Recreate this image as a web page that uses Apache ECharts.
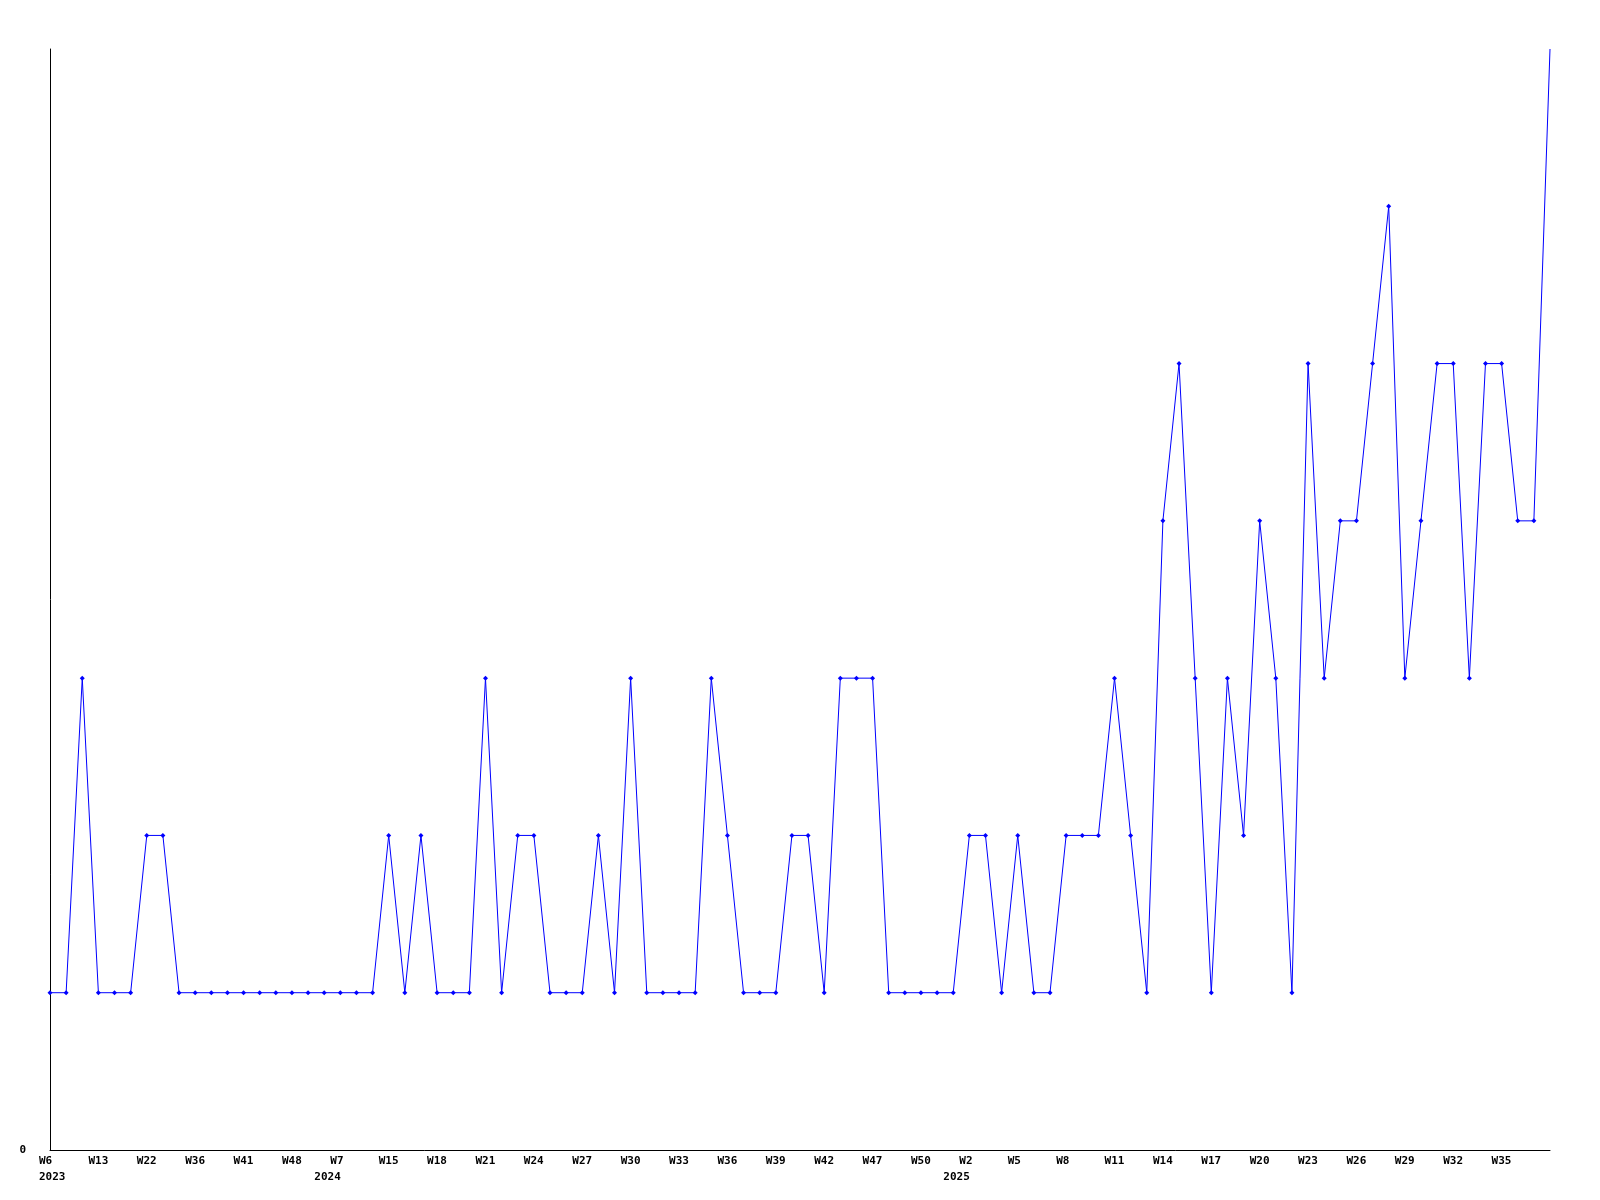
<!DOCTYPE html>
<html>
<head>
<meta charset="utf-8">
<script src="https://cdn.jsdelivr.net/npm/echarts@6/dist/echarts.min.js"></script>
<style>
  html, body { margin: 0; padding: 0; background: #fff; }
  #chart { width: 1600px; height: 1200px; }
</style>
</head>
<body>
<div id="chart"></div>
<script>
// categories: "year week"
const weeks = [
  '2023 W6', '2023 W8', '2023 W10', '2023 W13', '2023 W16', '2023 W19', '2023 W22', '2023 W27', '2023 W31', '2023 W36',
  '2023 W38', '2023 W39', '2023 W41', '2023 W43', '2023 W46', '2023 W48', '2023 W50', '2023 W52',
  '2024 W7', '2024 W10', '2024 W12', '2024 W15', '2024 W16', '2024 W17', '2024 W18', '2024 W19', '2024 W20', '2024 W21',
  '2024 W22', '2024 W23', '2024 W24', '2024 W25', '2024 W26', '2024 W27', '2024 W28', '2024 W29', '2024 W30', '2024 W31',
  '2024 W32', '2024 W33', '2024 W34', '2024 W35', '2024 W36', '2024 W37', '2024 W38', '2024 W39', '2024 W40', '2024 W41',
  '2024 W42', '2024 W43', '2024 W45', '2024 W47', '2024 W48', '2024 W49', '2024 W50', '2024 W51', '2024 W52',
  '2025 W2', '2025 W3', '2025 W4', '2025 W5', '2025 W6', '2025 W7', '2025 W8', '2025 W9', '2025 W10', '2025 W11',
  '2025 W12', '2025 W13', '2025 W14', '2025 W15', '2025 W16', '2025 W17', '2025 W18', '2025 W19', '2025 W20', '2025 W21',
  '2025 W22', '2025 W23', '2025 W24', '2025 W25', '2025 W26', '2025 W27', '2025 W28', '2025 W29', '2025 W30', '2025 W31',
  '2025 W32', '2025 W33', '2025 W34', '2025 W35', '2025 W36', '2025 W37', '2025 W38'
];

const counts = [
  1, 1, 3, 1, 1, 1, 2, 2, 1, 1,
  1, 1, 1, 1, 1, 1, 1, 1, 1, 1,
  1, 2, 1, 2, 1, 1, 1, 3, 1, 2,
  2, 1, 1, 1, 2, 1, 3, 1, 1, 1,
  1, 3, 2, 1, 1, 1, 2, 2, 1, 3,
  3, 3, 1, 1, 1, 1, 1, 2, 2, 1,
  2, 1, 1, 2, 2, 2, 3, 2, 1, 4,
  5, 3, 1, 3, 2, 4, 3, 1, 5, 3,
  4, 4, 5, 6, 3, 4, 5, 5, 3, 5,
  5, 4, 4, 7
];

const LABEL_STEP = 3;
const FONT = '"DejaVu Sans Mono", monospace';

const txt = { fontFamily: FONT, fontWeight: 'bold', fontSize: 11, color: '#000', lineHeight: 16, align: 'left' };

const chart = echarts.init(document.getElementById('chart'), null, { renderer: 'canvas' });

chart.setOption({
  animation: false,
  backgroundColor: '#ffffff',
  grid: { left: 50, right: 50, top: 49, bottom: 50, containLabel: false },
  xAxis: {
    type: 'category',
    data: weeks,
    boundaryGap: false,
    axisLine: { lineStyle: { color: '#000', width: 1 } },
    axisTick: { show: false },
    splitLine: { show: false },
    axisLabel: {
      interval: (i) => i % LABEL_STEP === 0 && i < weeks.length - 1,
      margin: 3,
      color: '#000',
      fontFamily: FONT,
      fontWeight: 'bold',
      fontSize: 11,
      lineHeight: 16,
      formatter: (value, index) => {
        const [year, week] = value.split(' ');
        const prev = weeks[index - LABEL_STEP];
        if (index === 0) return '{w0|' + week + '}\n{y0|' + year + '}';
        if (prev.split(' ')[0] !== year) {
          return '{s1| }{w|' + week + '}\n{y|' + year + '}{s2| }';
        }
        return '{w|' + week + '}';
      },
      rich: {
        w: Object.assign({ width: 20 }, txt),
        w0: Object.assign({ width: 22 }, txt),
        y0: Object.assign({ width: 22 }, txt),
        y: Object.assign({ width: 27 }, txt),
        s1: Object.assign({ width: 16 }, txt),
        s2: Object.assign({ width: 25 }, txt)
      }
    }
  },
  yAxis: {
    type: 'value',
    min: 0,
    max: 7,
    interval: 7,
    axisLine: { show: true, lineStyle: { color: '#000', width: 1 } },
    axisTick: { show: false },
    splitLine: { show: false },
    axisLabel: {
      showMaxLabel: false,
      margin: 24,
      color: '#000',
      fontFamily: FONT,
      fontWeight: 'bold',
      fontSize: 11,
      formatter: (v) => (v === 0 ? '0' : '')
    }
  },
  series: [{
    type: 'line',
    data: counts,
    color: '#0000ff',
    lineStyle: { color: '#0000ff', width: 1 },
    itemStyle: { color: '#0000ff' },
    symbol: 'diamond',
    symbolSize: (v, p) => (p.dataIndex === counts.length - 1 ? 0 : 5),
    showAllSymbol: true,
    clip: false
  }]
});
</script>
</body>
</html>
